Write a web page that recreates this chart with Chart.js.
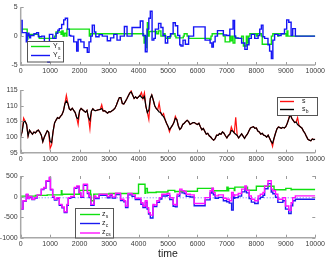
<!DOCTYPE html>
<html><head><meta charset="utf-8">
<script src="https://cdn.jsdelivr.net/npm/chart.js@4.4.1/dist/chart.umd.min.js"></script>
<style>
html,body{margin:0;padding:0;background:#fff;width:327px;height:260px;overflow:hidden}
canvas{position:absolute;left:0;top:0}
</style></head><body>
<canvas id="c1" width="327" height="260"></canvas>
<canvas id="c2" width="327" height="260"></canvas>
<canvas id="c3" width="327" height="260"></canvas>
<script>
// ---------- data ----------
const xTicks = [0,1000,2000,3000,4000,5000,6000,7000,8000,9000,10000];

// top panel: step change points
const ycT = [0,50,190,220,245,280,300,335,450,540,605,715,805,920,975,1090,1200,1260,1310,1390,1460,1515,1590,1650,1700,1800,1900,1950,2040,2150,2260,2320,2380,2430,2500,2550,2660,2770,2940,3050,3160,3270,3380,3520,3610,3780,4060,4150,4230,4290,4350,4400,4460,4520,4570,4680,4760,4830,4910,4990,5085,5175,5250,5330,5400,5440,5510,5590,5700,5870,6260,6430,6490,6540,6600,6680,6880,6990,7100,7210,7260,7290,7380,7500,7610,7690,7750,7830,7945,8060,8115,8170,8225,8280,8395,8450,8510,8560,8620,8730,8840,8955,9030,9100,9180,9235,9325,9460,10000];
const ycV = [0,2.7,0.6,-1,0.1,0.5,0.1,-0.3,0.1,0.4,0.6,-0.1,0,-1,-4.5,0.3,-0.4,0.5,1,1.3,2,2.8,3.1,1.2,0.1,0,-1,-2.6,-0.6,-1,-2,-2.8,-1,0,1.9,0.7,-0.1,0.25,0,-0.8,-0.3,0.3,-0.7,0,1.65,0,1.5,2.6,0.1,-2.7,1.2,3.1,4.3,-0.7,-0.4,1.2,2.2,1.5,0.1,-1.2,-0.1,0.4,2.3,1.8,0.1,-1.5,-1.7,-0.7,-1.4,0,1.6,-0.7,-1.2,-1.9,-1,0,0.95,0.2,0.1,1.2,2.7,0,-0.3,-0.4,-1.2,-2.3,-1.5,-0.4,0.3,-0.4,0.1,1.2,1.9,-0.1,-0.4,-1.5,-2.6,-3.9,-0.7,0.3,0.1,0.4,1.2,2.8,2.4,0.1,1.3,0,0];
const ysT = [0,220,245,270,600,630,1150,1200,1370,1400,1440,1480,1540,1570,2330,2370,4170,4190,4230,4260,4280,4300,4330,4360,4620,4680,4760,4850,4900,4930,5070,5100,5240,5270,5520,5550,5650,5700,6420,6460,6500,6880,6940,7100,7130,7180,7210,7270,7300,7500,7560,7660,7690,7740,7780,8000,8030,8170,8200,8510,8560,8730,8760,9010,9040,9070,9100,10000];
const ysV = [0,1.2,-0.5,0,0.3,0,-0.4,0,0.7,0.3,0.9,0,0.5,0,1.2,0,0.4,0,-1.2,0,-2.0,0,2.3,0,0.8,0.4,0.9,0,0.4,0,-0.4,0,0.4,0,-0.3,0,0.4,0,-0.4,-0.6,0,0.4,0,-1,0,-0.8,0,-1.2,0,-0.4,0,-1.7,0,-1.2,0,0.4,0,0.4,0,-1.4,0,0.4,0,0.4,0,0.9,0,0];

// middle panel
const sT = [0,50,100,150,200,250,300,350,400,450,500,550,600,650,700,750,800,850,900,950,1000,1050,1100,1150,1200,1250,1300,1350,1400,1450,1500,1550,1600,1650,1700,1750,1800,1850,1900,1950,2000,2050,2100,2150,2200,2250,2300,2350,2400,2450,2500,2550,2600,2650,2700,2750,2800,2850,2900,2950,3000,3050,3100,3150,3200,3250,3300,3350,3400,3450,3500,3550,3600,3650,3700,3750,3800,3850,3900,3950,4000,4050,4100,4150,4200,4250,4300,4350,4400,4450,4500,4550,4600,4650,4700,4750,4800,4850,4900,4950,5000,5050,5100,5150,5200,5250,5300,5350,5400,5450,5500,5550,5600,5650,5700,5750,5800,5850,5900,5950,6000,6050,6100,6150,6200,6250,6300,6350,6400,6450,6500,6550,6600,6650,6700,6750,6800,6850,6900,6950,7000,7050,7100,7150,7200,7250,7300,7350,7400,7450,7500,7550,7600,7650,7700,7750,7800,7850,7900,7950,8000,8050,8100,8150,8200,8250,8300,8350,8400,8450,8500,8550,8600,8650,8700,8750,8800,8850,8900,8950,9000,9050,9100,9150,9200,9250,9300,9350,9400,9450,9500,9550,9600,9650,9700,9750,9800,9850,9900,9950,10000];
const sbV = [100.1,101.8,104.8,105.0,104.0,100.3,102.2,101.5,100.9,101.6,
101.3,101.9,102.2,101.5,100.6,98.5,99.9,101.0,102.0,101.5,
98.6,98.2,101.8,104.5,105.4,106.2,105.9,106.6,107.1,108.3,
110.6,111.5,110.8,109.0,108.6,109.2,108.5,107.8,106.2,105.8,
108.4,109.1,108.7,108.3,107.9,108.5,106.2,105.3,108.2,109.0,
108.5,108.4,108.6,108.7,108.8,109.1,108.3,108.4,108.0,107.6,
108.1,108.0,108.4,108.7,109.2,110.2,111.5,112.6,112.6,110.7,
110.5,111.3,112.1,113.1,114.0,114.4,113.4,112.3,112.8,112.3,
112.8,113.3,112.7,112.3,112.9,109.8,107.8,108.6,112.3,113.4,
111.8,110.0,109.1,108.6,108.0,107.8,107.0,106.5,105.6,104.4,
103.4,102.4,103.0,103.7,104.6,106.0,105.6,103.6,102.4,102.9,
104.0,104.4,104.9,105.3,104.9,104.0,104.3,104.6,104.6,104.2,
104.0,104.4,103.3,102.3,102.7,101.8,100.9,101.2,100.4,100.0,
99.4,99.0,99.5,100.6,100.5,101.1,100.9,101.6,101.2,100.4,
99.7,100.5,100.9,102.1,101.9,101.3,100.9,100.5,99.7,100.4,
101.0,100.3,99.6,100.4,101.0,102.0,102.9,103.1,103.3,102.8,
102.9,101.9,101.6,100.9,101.2,100.6,100.4,100.0,100.6,99.6,
98.6,98.0,99.6,101.2,102.6,103.2,103.0,102.8,103.1,102.9,
103.3,104.4,105.8,107.2,106.0,105.3,104.6,104.8,104.0,103.6,
103.2,102.8,101.9,101.2,100.2,99.3,99.0,98.8,99.4,99.2,
99.3];
const sV = [100.1,101.8,106.0,105.0,104.0,100.3,102.2,101.5,100.9,101.6,
101.3,101.9,102.2,101.5,100.6,98.5,99.9,101.0,102.0,101.5,
96.4,97.5,101.8,104.5,105.4,106.2,105.9,106.6,107.1,108.3,
110.6,113.3,110.8,109.0,108.6,109.2,108.5,107.8,106.2,104.0,
108.4,109.1,108.7,108.3,107.9,108.5,106.2,102.6,108.2,109.0,
108.5,108.4,108.6,108.7,108.8,110.3,108.3,108.4,108.0,107.6,
108.1,108.0,108.4,108.7,109.2,110.2,111.5,112.6,112.6,110.7,
110.5,111.3,112.1,113.1,114.0,114.7,113.4,112.3,112.8,112.3,
112.8,113.3,114.2,112.3,114.1,109.8,107.8,105.6,112.3,113.4,
111.8,110.0,109.1,108.6,110.8,107.8,107.0,107.5,105.6,104.4,
103.4,101.7,103.0,103.7,104.6,106.6,105.6,103.6,102.4,102.9,
104.0,104.4,104.9,105.3,104.9,104.0,104.3,104.6,104.6,104.2,
104.0,104.4,103.3,102.3,102.7,101.8,100.9,101.2,100.4,100.0,
99.4,99.0,99.5,100.6,100.5,101.1,100.9,101.6,101.2,100.4,
99.7,100.5,100.9,103.2,101.9,101.3,106.3,100.5,99.7,100.4,
101.0,100.3,99.6,100.4,101.0,102.0,102.9,103.1,103.3,102.8,
102.9,101.9,101.6,100.9,101.2,100.6,100.4,100.0,100.6,99.6,
98.6,97.0,99.6,101.2,102.6,103.2,103.0,102.8,103.1,102.9,
103.3,104.4,105.8,108.0,106.0,105.3,104.6,104.8,106.2,103.6,
103.2,102.8,101.9,101.2,100.2,99.3,99.0,98.8,99.4,99.2,
99.3];

// bottom panel: step change points
const zcsT = [0,80,190,245,300,380,470,560,700,785,860,975,1010,1085,1145,1230,1310,1400,1480,1570,1615,1700,1820,1905,1985,2040,2130,2265,2320,2380,2490,2545,2660,2940,3030,3110,3220,3390,3500,3560,3640,3780,3890,4080,4150,4230,4290,4340,4400,4490,4530,4620,4710,4790,4970,5060,5175,5250,5310,5400,5475,5555,5620,5755,5890,6260,6430,6490,6540,6600,6710,6880,6990,7080,7160,7215,7270,7385,7500,7610,7665,7755,7830,7945,8060,8135,8225,8280,8395,8505,8560,8650,8730,8900,8990,9100,9180,9235,9325,9460,10000];
const zcsV = [0,-295,-100,57,-40,0,-65,-25,40,180,220,385,470,180,0,-65,-25,-190,-255,-370,-190,-25,0,220,260,100,0,300,100,0,-190,15,-25,57,0,57,-8,80,-65,-100,-230,75,40,-40,-150,-230,-100,-270,-390,-450,-190,-205,-100,-25,57,75,-25,-190,-205,57,180,140,125,57,40,-170,-25,140,205,100,16,40,-40,-65,-100,100,16,40,75,180,260,155,16,-65,-100,16,57,100,260,385,180,140,57,-65,-25,-230,-335,-150,-25,16,16];
const zcT = [0,80,190,245,300,380,470,560,700,785,860,975,1010,1085,1145,1230,1310,1400,1480,1570,1615,1700,1820,1905,1985,2040,2130,2265,2320,2380,2490,2545,2660,2940,3030,3110,3220,3390,3500,3560,3640,3780,3890,4080,4150,4230,4290,4340,4400,4490,4530,4620,4710,4790,4970,5060,5175,5250,5310,5400,5475,5555,5620,5755,5890,6260,6430,6490,6540,6600,6710,6880,6990,7080,7160,7215,7240,7270,7385,7500,7610,7665,7755,7830,7945,8060,8135,8225,8280,8395,8505,8560,8650,8730,8900,8990,9100,9180,9235,9325,9460,10000];
const zcV = [0,-305,-110,47,-50,-10,-75,-35,30,170,205,370,455,165,-15,-85,-45,-210,-275,-390,-210,-45,-20,200,240,80,-20,275,75,-25,-215,-10,-50,30,-30,27,-38,50,-95,-130,-265,40,5,-75,-185,-265,-135,-305,-425,-520,-230,-245,-140,-60,15,30,-70,-235,-250,10,130,90,75,5,-10,-225,-80,85,150,45,-40,-20,-100,-125,-160,-330,40,-45,-25,10,115,195,90,-50,-135,-170,-55,-15,30,190,315,110,70,-15,-140,-100,-305,-410,-225,-100,-65,-65];
const zsT = [0,500,900,1380,1400,1420,2000,2370,2390,2480,2500,3000,4000,4220,4240,4300,4320,4600,5000,5230,5250,5500,6000,6540,6560,7000,7040,7060,7250,7270,7700,7720,8000,8600,8620,9000,9180,9200,9500,10000];
const zsV = [0,10,30,40,140,40,55,150,55,-100,55,60,75,300,80,200,90,100,110,150,115,125,130,200,135,140,230,140,200,145,230,150,155,250,160,165,200,165,170,170];
const refT = [0,10000];
const refV = [-30,-30];

// ---------- helpers ----------
const FONT = '"Liberation Sans", Arial, sans-serif';
const pts = (T, V) => T.map((t, i) => ({x: t, y: V[i]}));

function axesPlugin(extra) {
  return {
    id: 'axesDraw',
    afterDatasetsDraw(chart) {
      const {ctx, chartArea: a, scales: {x, y}} = chart;
      ctx.save();
      ctx.strokeStyle = '#9c9c9c';
      ctx.lineWidth = 1;
      ctx.beginPath();
      xTicks.forEach(v => {
        const px = Math.round(x.getPixelForValue(v)) + 0.5;
        ctx.moveTo(px, a.bottom); ctx.lineTo(px, a.bottom - 3);
        if (extra.top) { ctx.moveTo(px, a.top); ctx.lineTo(px, a.top + 3); }
      });
      y.ticks.forEach(t => {
        const py = Math.round(y.getPixelForValue(t.value)) + 0.5;
        ctx.moveTo(a.left, py); ctx.lineTo(a.left + 3, py);
        if (extra.right) { ctx.moveTo(a.right, py); ctx.lineTo(a.right - 3, py); }
      });
      ctx.stroke();
      ctx.lineWidth = 1.5;
      ctx.strokeStyle = '#a8a8a8';
      ctx.beginPath();
      ctx.moveTo(a.left, a.top); ctx.lineTo(a.left, a.bottom); ctx.lineTo(a.right, a.bottom);
      ctx.stroke();
      ctx.restore();
    }
  };
}

function legendPlugin(box) {
  return {
    id: 'subLegend',
    afterDraw(chart) {
      const ctx = chart.ctx;
      ctx.save();
      ctx.fillStyle = '#fff';
      ctx.fillRect(box.x, box.y, box.w, box.h);
      ctx.strokeStyle = '#555';
      ctx.lineWidth = 1;
      ctx.strokeRect(box.x + 0.5, box.y + 0.5, box.w, box.h);
      box.items.forEach(it => {
        ctx.strokeStyle = it.color;
        ctx.lineWidth = 1.4;
        ctx.beginPath();
        ctx.moveTo(box.lx0, it.y); ctx.lineTo(box.lx1, it.y);
        ctx.stroke();
        ctx.fillStyle = '#222';
        ctx.textBaseline = 'middle';
        ctx.font = '7px ' + FONT;
        ctx.fillText(it.main, box.tx, it.y - 0.5);
        const w = ctx.measureText(it.main).width;
        if (it.sub) {
          ctx.font = '5px ' + FONT;
          ctx.fillText(it.sub, box.tx + w + 0.3, it.y + 2);
        }
      });
      ctx.restore();
    }
  };
}

function makeChart(id, datasets, ymin, ymax, ystep, top, xAxisH, bottomPad, withTitle, plugins) {
  return new Chart(document.getElementById(id), {
    type: 'line',
    data: {datasets},
    options: {
      responsive: false,
      animation: false,
      events: [],
      layout: {padding: {top: top, right: 9.3, bottom: bottomPad, left: 0}},
      plugins: {legend: {display: false}, tooltip: {enabled: false}},
      elements: {point: {radius: 0}, line: {tension: 0, borderWidth: 1.4}},
      scales: {
        x: {
          type: 'linear', min: 0, max: 10000,
          afterBuildTicks: s => { s.ticks = xTicks.map(v => ({value: v})); },
          afterFit: s => { s.height = xAxisH; },
          grid: {display: false, drawTicks: false},
          border: {display: false},
          ticks: {autoSkip: false, maxRotation: 0, padding: 2, color: '#3a3a3a',
                  font: {size: 7, family: FONT}, callback: v => String(v)},
          title: withTitle ? {display: true, text: 'time', color: '#222', padding: 0,
                  font: {size: 10.5, family: FONT, lineHeight: 1.2}} : {display: false}
        },
        y: {
          type: 'linear', min: ymin, max: ymax,
          afterBuildTicks: s => { const t = []; for (let v = ymin; v <= ymax; v += ystep) t.push({value: v}); s.ticks = t; },
          afterFit: s => { s.width = 20.7; },
          grid: {display: false, drawTicks: false},
          border: {display: false},
          ticks: {padding: 3, color: '#3a3a3a', font: {size: 7, family: FONT}, callback: v => String(v)}
        }
      }
    },
    plugins: plugins
  });
}

// ---------- top ----------
makeChart('c1', [
  {label: 'Y_c', data: pts(ycT, ycV), borderColor: '#1515f5', stepped: 'after', order: 0, borderWidth: 1.4},
  {label: 'Y_s', data: pts(ysT, ysV), borderColor: '#10e010', stepped: 'after', order: 1, borderWidth: 1.4}
], -5, 5, 5, 3.3, 10, 185, false, [axesPlugin({}), legendPlugin({
  x: 27, y: 41, w: 36, h: 20.5, lx0: 31, lx1: 50, tx: 53,
  items: [{color: '#10e010', main: 'Y', sub: 's', y: 46.5}, {color: '#1515f5', main: 'Y', sub: 'c', y: 55.5}]
})]);

// ---------- middle ----------
makeChart('c2', [
  {label: 's_b', data: pts(sT, sbV), borderColor: '#000', order: 0, borderWidth: 1.2},
  {label: 's', data: pts(sT, sV), borderColor: '#ff1010', order: 1, borderWidth: 1.2}
], 95, 115, 5, 90, 10, 260 - 152.7 - 10, false, [axesPlugin({}), legendPlugin({
  x: 277, y: 97, w: 40, h: 18, lx0: 280, lx1: 294, tx: 302,
  items: [{color: '#ff1010', main: 's', sub: '', y: 101.5}, {color: '#000', main: 's', sub: 'b', y: 109.5}]
})]);

// ---------- bottom ----------
makeChart('c3', [
  {label: 'z_cs', data: pts(zcsT, zcsV), borderColor: '#ff10ff', stepped: 'after', order: 0, borderWidth: 1.4},
  {label: 'z_s', data: pts(zsT, zsV), borderColor: '#10e010', stepped: 'after', order: 1, borderWidth: 1.4},
  {label: 'z_c', data: pts(zcT, zcV), borderColor: '#1a1af0', stepped: 'after', order: 2, borderWidth: 1.4},
  {label: 'ref', data: pts(refT, refV), borderColor: '#6b6bff', borderDash: [1, 2], order: 3, borderWidth: 1}
], -1000, 500, 500, 176, 260 - 237.7, 0, true, [axesPlugin({top: true, right: true}), legendPlugin({
  x: 75, y: 208, w: 38, h: 29.5, lx0: 80, lx1: 100, tx: 102,
  items: [{color: '#10e010', main: 'z', sub: 's', y: 214.5}, {color: '#1a1af0', main: 'z', sub: 'c', y: 223.5},
          {color: '#ff10ff', main: 'z', sub: 'cs', y: 233}]
})]);
</script>
</body></html>
